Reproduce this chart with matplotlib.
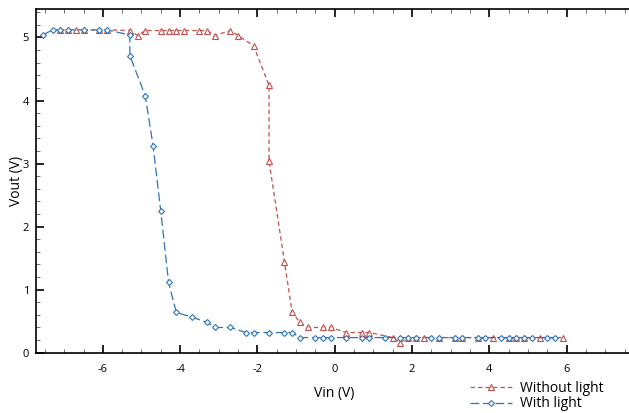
import numpy as np
from matplotlib import pyplot as plt
from matplotlib.ticker import MultipleLocator

# Vin / Vout
vin_dark = [-7.1, -6.9, -6.7, -6.5, -6.1, -5.9, -5.3, -5.1, -4.9, -4.5, -4.3, -4.1, -3.9,
            -3.5, -3.3, -3.1, -2.7, -2.5, -2.1, -1.7, -1.7, -1.3, -1.1, -0.9, -0.7,
            -0.3, -0.1, 0.3, 0.7, 0.9, 1.5, 1.7, 1.9, 2.1, 2.3, 2.7, 3.1, 3.3, 3.7,
            4.1, 4.5, 4.7, 4.9, 5.3, 5.9]
vout_dark = [5.12, 5.12, 5.12, 5.12, 5.12, 5.12, 5.11, 5.03, 5.11, 5.11, 5.11, 5.11, 5.11,
             5.11, 5.11, 5.03, 5.11, 5.03, 4.87, 4.24, 3.04, 1.44, 0.64, 0.48, 0.40,
             0.40, 0.40, 0.32, 0.32, 0.32, 0.24, 0.16, 0.24, 0.24, 0.24, 0.24, 0.24, 0.24, 0.24,
             0.24, 0.24, 0.24, 0.24, 0.24, 0.24]

vin_light = [-7.55, -7.3, -7.1, -6.9, -6.5, -6.1, -5.9, -5.3, -5.3, -4.9, -4.7, -4.5, -4.3,
             -4.1, -3.7, -3.3, -3.1, -2.7, -2.3, -2.1, -1.7, -1.3, -1.1, -0.9, -0.5,
             -0.3, -0.1, 0.3, 0.7, 0.9, 1.3, 1.7, 1.9, 2.1, 2.5, 2.7, 3.1, 3.3, 3.7,
             3.9, 4.3, 4.5, 4.7, 4.9, 5.1, 5.5, 5.7]
vout_light = [5.04, 5.12, 5.12, 5.12, 5.12, 5.12, 5.12, 5.04, 4.71, 4.07, 3.28, 2.24, 1.12,
              0.64, 0.565, 0.48, 0.40, 0.40, 0.32, 0.32, 0.32, 0.32, 0.32, 0.24, 0.24,
              0.24, 0.24, 0.24, 0.24, 0.24, 0.24, 0.24, 0.24, 0.24, 0.24, 0.24, 0.24, 0.24, 0.24,
              0.24, 0.24, 0.24, 0.24, 0.24, 0.24, 0.24, 0.24]

red = '#c0504d'
blue = '#2f75b5'

plt.rcParams['font.family'] = ['Open Sans', 'DejaVu Sans']
plt.rcParams['axes.unicode_minus'] = False

fig = plt.figure(figsize=(6.29, 4.13), dpi=100)
ax = fig.add_axes([0.0572, 0.146, 0.948, 0.832])

ax.plot(vin_dark, vout_dark, color=red, lw=0.9, dashes=(3.5, 2.5),
        marker='^', ms=4.5, mfc='white', mec=red, mew=0.8, label='Without light')
ax.plot(vin_light, vout_light, color=blue, lw=0.9, dashes=(7, 3),
        marker='D', ms=3.0, mfc='white', mec=blue, mew=0.8, label='With light')

ax.set_xlim(-7.73, 7.7)
ax.set_ylim(0, 5.45)
ax.xaxis.set_major_locator(MultipleLocator(2))
ax.xaxis.set_minor_locator(MultipleLocator(0.5))
ax.yaxis.set_major_locator(MultipleLocator(1))
ax.yaxis.set_minor_locator(MultipleLocator(0.2))
ax.tick_params(which='both', direction='in', top=True, right=False, labelsize=8, pad=8)
ax.tick_params(axis='y', pad=5)
ax.tick_params(which='major', length=6, width=1.2)
ax.tick_params(which='minor', length=3, width=0.6, color='#555555')
ax.spines['right'].set_visible(False)
for s in ['left', 'bottom', 'top']:
    ax.spines[s].set_linewidth(1.2)

ax.set_xlabel('Vin (V)', fontsize=10, labelpad=8)
ax.set_ylabel('Vout (V)', fontsize=10, labelpad=-1)

ax.legend(loc='upper left', bbox_to_anchor=(0.748, 0.078), bbox_transform=fig.transFigure,
          frameon=False, fontsize=10, handlelength=3.0, handletextpad=0.6,
          labelspacing=0.05, borderpad=0, borderaxespad=0)

fig.savefig('out.png', dpi=100)
